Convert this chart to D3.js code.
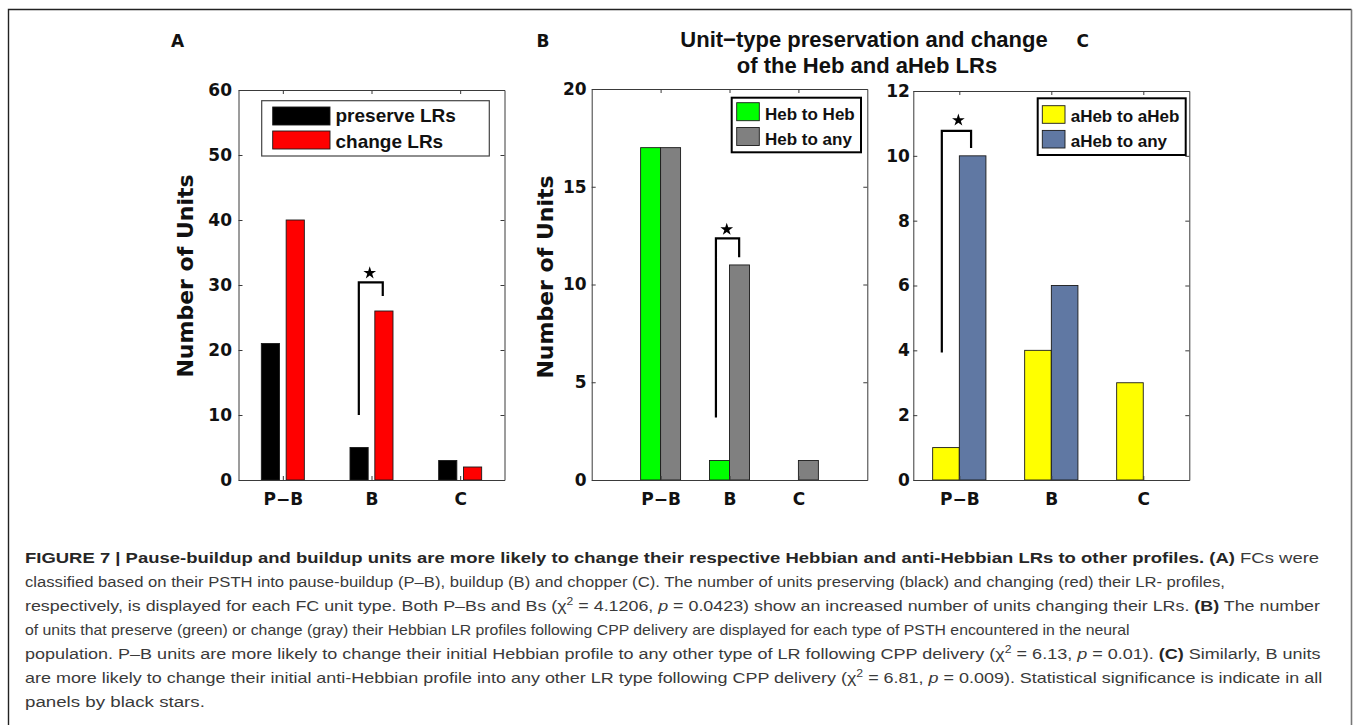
<!DOCTYPE html>
<html>
<head>
<meta charset="utf-8">
<script src="https://cdn.jsdelivr.net/npm/d3@7"></script>
<style>
  html, body { margin: 0; padding: 0; background: #fff; }
  svg { display: block; }
</style>
</head>
<body>
<svg id="fig" width="1356" height="725"></svg>
<script>
// ---------------- DATA ----------------
const categories = ["P\u2212B", "B", "C"];

const preserveLRs = [21, 5, 3];
const changeLRs   = [40, 26, 2];

const hebToHeb = [17, 1, 0];
const hebToAny = [17, 11, 1];

const aHebToAHeb = [1, 4, 3];
const aHebToAny  = [10, 6, 0];

const yTicksA = [0, 10, 20, 30, 40, 50, 60];
const yTicksB = [0, 5, 10, 15, 20];
const yTicksC = [0, 2, 4, 6, 8, 10, 12];

const legendA = ["preserve LRs", "change LRs"];
const legendB = ["Heb to Heb", "Heb to any"];
const legendC = ["aHeb to aHeb", "aHeb to any"];

// significance brackets: [category index, y start, y top, y end, y star]
const sigA = [1, 10, 30.4, 28.3, 32];
const sigB = [1, 3.2, 12.36, 11.4, 12.87];
const sigC = [0, 3.93, 10.77, 10.24, 11.13];

const titleLines = ["Unit\u2212type preservation and change", "of the Heb and aHeb LRs"];
const panelLetters = ["A", "B", "C"];
const yLabel = "Number of Units";

// ---------------- DRAW ----------------
const svg = d3.select("#fig");
const FONT = "'Liberation Sans', Arial, Helvetica, sans-serif";
const AXFONT = "'DejaVu Sans', Verdana, sans-serif";

// frame
svg.append("path").attr("d", "M8.5,740 L8.5,9.5 L1351.5,9.5")
  .attr("fill", "none").attr("stroke", "#222").attr("stroke-width", 1.4);
svg.append("line").attr("x1", 1351.5).attr("x2", 1351.5).attr("y1", 9.5).attr("y2", 740)
  .attr("stroke", "#777").attr("stroke-width", 1.6);

function panel(cfg) {
  const g = svg.append("g");
  const x = d3.scaleLinear().domain(cfg.xDomain).range([cfg.left, cfg.right]);
  const y = d3.scaleLinear().domain([0, cfg.yMax]).range([cfg.bottom, cfg.top]);
  const bw = x(cfg.barW) - x(0);

  // bars
  cfg.series.forEach((s, si) => {
    const off = si === 0 ? -cfg.offset : cfg.offset;
    g.append("g").selectAll("rect")
      .data(s.values.map((v, i) => ({ v, i })).filter(d => d.v > 0))
      .join("rect")
      .attr("x", d => x(d.i + 1 + off) - bw / 2)
      .attr("width", bw)
      .attr("y", d => y(d.v))
      .attr("height", d => y(0) - y(d.v))
      .attr("fill", s.color)
      .attr("stroke", "#1a1a1a")
      .attr("stroke-width", 0.9);
  });

  // axes
  const axCol = "#3a3a3a";
  const styleAxis = sel => {
    sel.selectAll(".domain").attr("stroke", axCol).attr("stroke-width", 1);
    sel.selectAll(".tick line").attr("stroke", axCol).attr("stroke-width", 1);
    sel.selectAll("text").attr("font-family", AXFONT).attr("font-weight", "bold")
      .attr("font-size", 17).attr("fill", "#111");
  };
  g.append("g").attr("transform", `translate(${cfg.left},0)`)
    .call(d3.axisLeft(y).tickValues(cfg.yTicks).tickSize(-4).tickSizeOuter(0).tickPadding(cfg.tickPad))
    .call(styleAxis);
  g.append("g").attr("transform", `translate(${cfg.right},0)`)
    .call(d3.axisRight(y).tickValues(cfg.yTicks).tickSize(-4).tickSizeOuter(0).tickFormat(""))
    .call(styleAxis);
  g.append("g").attr("transform", `translate(0,${cfg.top})`)
    .call(d3.axisTop(x).tickValues([1, 2, 3]).tickSize(-4).tickSizeOuter(0).tickFormat(""))
    .call(styleAxis);
  g.append("g").attr("transform", `translate(0,${cfg.bottom})`)
    .call(d3.axisBottom(x).tickValues([1, 2, 3]).tickSize(-4).tickSizeOuter(0).tickPadding(13)
      .tickFormat((d, i) => categories[i]))
    .call(styleAxis);

  // y label
  if (cfg.ylabX != null) {
    g.append("text")
      .attr("transform", `translate(${cfg.ylabX},${cfg.ylabY}) rotate(-90)`)
      .attr("text-anchor", "middle")
      .attr("font-family", AXFONT).attr("font-weight", "bold").attr("font-size", 22)
      .attr("fill", "#111")
      .text(yLabel);
  }

  // panel letter
  g.append("text").attr("x", cfg.letterX).attr("y", 46.7)
    .attr("font-family", AXFONT).attr("font-weight", "bold").attr("font-size", 17)
    .attr("fill", "#111").text(cfg.letter);

  // legend
  const L = cfg.legend;
  g.append("rect").attr("x", L.x).attr("y", L.y).attr("width", L.w).attr("height", L.h)
    .attr("fill", "#fff").attr("stroke", L.stroke).attr("stroke-width", L.sw);
  cfg.series.forEach((s, si) => {
    g.append("rect").attr("x", L.swX).attr("y", L.rowY[si]).attr("width", L.swW).attr("height", L.swH)
      .attr("fill", s.color).attr("stroke", "#1a1a1a").attr("stroke-width", 0.9);
    g.append("text").attr("x", L.textX).attr("y", L.base[si])
      .attr("font-family", FONT).attr("font-weight", "bold").attr("font-size", L.fs)
      .attr("fill", "#111").text(s.name);
  });

  // significance bracket
  const [ci, y0, yt, y1, ys] = cfg.sig;
  const xl = x(ci + 1 + cfg.brL), xr = x(ci + 1 + cfg.brR);
  g.append("path")
    .attr("d", `M${xl},${y(y0)} L${xl},${y(yt)} L${xr},${y(yt)} L${xr},${y(y1)}`)
    .attr("fill", "none").attr("stroke", "#000").attr("stroke-width", 2.2);
  g.append("path")
    .attr("d", d3.symbol(d3.symbolStar, 50)())
    .attr("transform", `translate(${x(ci + 1 + cfg.starDx)},${y(ys) + 1})`)
    .attr("fill", "#000");
}

panel({
  letter: panelLetters[0], letterX: 171,
  left: 238.5, right: 504.5, top: 90, bottom: 480,
  xDomain: [0.5, 3.5], yMax: 60, yTicks: yTicksA, tickPad: 6.5,
  barW: 0.205, offset: 0.14,
  series: [
    { name: legendA[0], values: preserveLRs, color: "#000000" },
    { name: legendA[1], values: changeLRs, color: "#ff0000" }
  ],
  ylabX: 193, ylabY: 276,
  legend: { x: 261.7, y: 100.7, w: 227.6, h: 55.3, stroke: "#444", sw: 1.2,
            swX: 272.7, swW: 57.3, swH: 18, rowY: [107, 131], textX: 335.5,
            base: [121.7, 148.2], fs: 19 },
  sig: sigA, brL: -0.143, brR: 0.127, starDx: -0.02
});

panel({
  letter: panelLetters[1], letterX: 536.5,
  left: 591.7, right: 867.3, top: 89, bottom: 480,
  xDomain: [0, 4], yMax: 20, yTicks: yTicksB, tickPad: 5,
  barW: 0.29, offset: 0.145,
  series: [
    { name: legendB[0], values: hebToHeb, color: "#00ff00" },
    { name: legendB[1], values: hebToAny, color: "#808080" }
  ],
  ylabX: 553, ylabY: 277,
  legend: { x: 731.7, y: 97.7, w: 129.3, h: 54.6, stroke: "#000", sw: 2,
            swX: 736.7, swW: 22.6, swH: 18, rowY: [102.7, 127.5], textX: 765,
            base: [120.2, 144.5], fs: 17 },
  sig: sigB, brL: -0.197, brR: 0.14, starDx: -0.04
});

panel({
  letter: panelLetters[2], letterX: 1076.5,
  left: 913.3, right: 1189.3, top: 91, bottom: 480,
  xDomain: [0.5, 3.5], yMax: 12, yTicks: yTicksC, tickPad: 3.5,
  barW: 0.289, offset: 0.145,
  series: [
    { name: legendC[0], values: aHebToAHeb, color: "#ffff00" },
    { name: legendC[1], values: aHebToAny, color: "#6078a3" }
  ],
  ylabX: null, ylabY: null,
  legend: { x: 1037.7, y: 98.3, w: 148, h: 56.7, stroke: "#000", sw: 2,
            swX: 1042.3, swW: 22.7, swH: 17.6, rowY: [105.7, 130.4], textX: 1070.7,
            base: [121.7, 146.7], fs: 17 },
  sig: sigC, brL: -0.19, brR: 0.128, starDx: -0.01
});

// title
svg.append("g").selectAll("text").data(titleLines).join("text")
  .attr("x", (d, i) => i === 0 ? 864 : 867)
  .attr("y", (d, i) => i === 0 ? 46.7 : 73.3)
  .attr("text-anchor", "middle")
  .attr("font-family", FONT).attr("font-weight", "bold").attr("font-size", 22)
  .attr("fill", "#111")
  .text(d => d);

// ---------------- CAPTION ----------------
// each line: list of [text, style] ; style: b=bold, i=italic, s=superscript
const captionLines = [
  [["FIGURE 7 | Pause-buildup and buildup units are more likely to change their respective Hebbian and anti-Hebbian LRs to other profiles.", "b"], [" ", ""], ["(A)", "b"], [" FCs were", ""]],
  [["classified based on their PSTH into pause-buildup (P\u2013B), buildup (B) and chopper (C). The number of units preserving (black) and changing (red) their LR- profiles,", ""]],
  [["respectively, is displayed for each FC unit type. Both P\u2013Bs and Bs (\u03c7", ""], ["2", "s"], [" = 4.1206, ", ""], ["p", "i"], [" = 0.0423) show an increased number of units changing their LRs. ", ""], ["(B)", "b"], [" The number", ""]],
  [["of units that preserve (green) or change (gray) their Hebbian LR profiles following CPP delivery are displayed for each type of PSTH encountered in the neural", ""]],
  [["population. P\u2013B units are more likely to change their initial Hebbian profile to any other type of LR following CPP delivery (\u03c7", ""], ["2", "s"], [" = 6.13, ", ""], ["p", "i"], [" = 0.01). ", ""], ["(C)", "b"], [" Similarly, B units", ""]],
  [["are more likely to change their initial anti-Hebbian profile into any other LR type following CPP delivery (\u03c7", ""], ["2", "s"], [" = 6.81, ", ""], ["p", "i"], [" = 0.009). Statistical significance is indicate in all", ""]],
  [["panels by black stars.", ""]]
];
// right end of each caption line in the picture
const captionEnds = [1319, 1225, 1321, 1130, 1320, 1322.5, 205];

const CAPFONT = "'Liberation Sans', Arial, sans-serif";
const capG = svg.append("g");
captionLines.forEach((parts, li) => {
  const t = capG.append("text")
    .attr("x", 0).attr("y", 0)
    .attr("font-family", CAPFONT).attr("font-size", 15.4).attr("fill", "#3a3a3a")
    .style("white-space", "pre");
  parts.forEach(([txt, st], pi) => {
    const ts = t.append("tspan").text(txt);
    if (st === "b") ts.attr("font-weight", "bold").attr("fill", "#262626");
    if (st === "i") ts.attr("font-style", "italic");
    if (st === "s") ts.attr("font-size", 10.5).attr("dy", -6);
    if (pi > 0 && parts[pi - 1][1] === "s") ts.attr("dy", 6);
  });
  const w = t.node().getComputedTextLength();
  const s = (captionEnds[li] - 25) / w;
  t.attr("transform", `translate(25,${562.7 + li * 24}) scale(${s},1)`);
});
</script>
</body>
</html>
